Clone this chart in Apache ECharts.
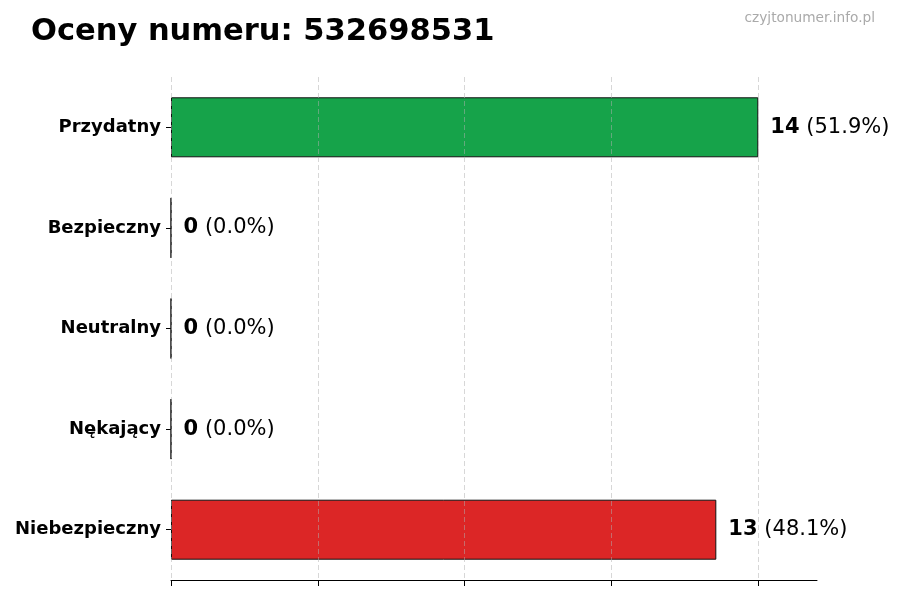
<!DOCTYPE html>
<html><head><meta charset="utf-8">
<script src="https://cdn.jsdelivr.net/npm/echarts@6/dist/echarts.min.js"></script>
<style>html,body{margin:0;padding:0;background:#fff}#c{width:900px;height:600px}</style>
</head><body><div id="c"></div>
<script>
const categories = ['Przydatny', 'Bezpieczny', 'Neutralny', 'Nękający', 'Niebezpieczny'];
const values = [14, 0, 0, 0, 13];
const colors = ['#16a34a', '#16a34a', '#9ca3af', '#f59e0b', '#dc2626'];
const xTicks = [0, 3.5, 7, 10.5, 14];
const titleText = 'Oceny numeru: 532698531';
const watermark = 'czyjtonumer.info.pl';

const total = values.reduce((a, b) => a + b, 0);
const font = '"DejaVu Sans", sans-serif';
const chart = echarts.init(document.getElementById('c'));
chart.setOption({
  animation: false,
  textStyle: { fontFamily: font },
  title: [
    { text: titleText, left: 26, top: 12, textStyle: { fontFamily: font, fontSize: 30.5, fontWeight: 'bold', color: '#000' } },
    { text: watermark, right: 20, top: 6, textStyle: { fontFamily: font, fontSize: 13.7, fontWeight: 'normal', color: '#aaaaaa' } }
  ],
  grid: { left: 171, right: 83, top: 77, bottom: 20 },
  xAxis: {
    type: 'value', min: 0, max: 15.4,
    axisLine: { show: true, lineStyle: { color: '#000', width: 1 } },
    axisTick: { show: true, length: 6, customValues: xTicks, lineStyle: { color: '#000' } },
    axisLabel: { show: false },
    splitLine: { show: false }
  },
  yAxis: {
    type: 'category', data: categories, inverse: true,
    axisLine: { show: false },
    axisTick: { show: true, alignWithLabel: true, length: 5, lineStyle: { color: '#000' } },
    axisLabel: { margin: 10, fontFamily: font, fontSize: 18, fontWeight: 'bold', color: '#000' },
    splitLine: { show: false }
  },
  series: [{
    type: 'bar',
    barWidth: 60,
    data: values.map((v, i) => ({ value: v, itemStyle: { color: colors[i] } })),
    itemStyle: { borderColor: '#111', borderWidth: 1 },
    label: {
      show: true, position: 'right', distance: 12,
      formatter: p => '{b|' + p.value + '} {n|(' + (total ? (p.value / total * 100) : 0).toFixed(1) + '%)}',
      rich: {
        b: { fontFamily: font, fontSize: 21, fontWeight: 'bold', color: '#000', padding: [0, 3, 0, 0] },
        n: { fontFamily: font, fontSize: 21, color: '#000' }
      }
    },
    markLine: {
      silent: true, symbol: 'none', label: { show: false },
      lineStyle: { color: '#b0b0b0', opacity: 0.5, type: [5, 3], width: 1 },
      data: xTicks.map(t => ({ xAxis: t }))
    }
  }]
});
</script></body></html>
